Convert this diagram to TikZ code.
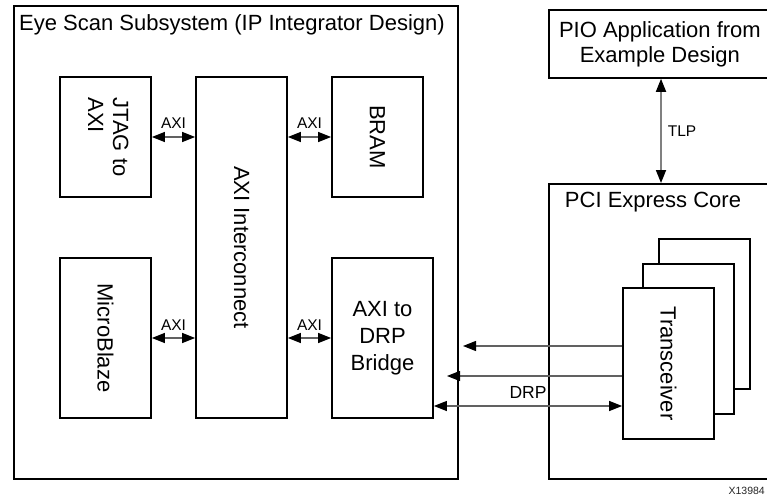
\documentclass[tikz,border=0pt]{standalone}
\usepackage{fontspec}
\setmainfont{Liberation Sans}
\usepackage{graphicx}
\usetikzlibrary{arrows.meta}
\newcommand\bigtxt{\fontsize{22}{25}\selectfont}
\begin{document}
\begin{tikzpicture}[x=1pt,y=-1pt,
  box/.style={draw,line width=1.8pt,fill=white,inner sep=0pt,font=\bigtxt,align=center},
  lbl/.style={font=\fontsize{15.5}{17}\selectfont,inner sep=1pt},
  drplbl/.style={font=\fontsize{17.5}{19}\selectfont,inner sep=1pt},
  hd/.tip={Triangle[length=13pt,width=10pt,color=black]},
  sig/.style={draw=black!62,line width=1.2pt},
  tlp/.style={draw=black!50,line width=1.7pt}]
\useasboundingbox (0,0) rectangle (767,497);
\clip (0,0) rectangle (767,497);
\fill[white] (0,0) rectangle (767,497);
% Eye scan subsystem
\node[box,anchor=north west,minimum width=444pt,minimum height=473pt] (eye) at (13,5) {};
\node[font=\bigtxt,anchor=west,inner sep=0pt] (eyetitle) at (19,25) {Eye Scan Subsystem (IP Integrator Design)};
\node[box,minimum width=91pt,minimum height=120pt] (jtag) at (105.5,137) {\rotatebox{-90}{\begin{tabular}{@{}l@{}}JTAG to\\AXI\end{tabular}}};
\node[box,minimum width=91pt,minimum height=341pt] (axi) at (241.5,247.5) {\rotatebox{-90}{AXI Interconnect}};
\node[box,minimum width=91pt,minimum height=120pt] (bram) at (377.5,137) {\rotatebox{-90}{BRAM}};
\node[box,minimum width=91pt,minimum height=160pt] (mb) at (105.5,338) {\rotatebox{-90}{MicroBlaze}};
\node[box,minimum width=101pt,minimum height=160pt,font=\fontsize{22}{27}\selectfont] (bridge) at (382.5,338) {AXI to\\DRP\\Bridge};
% Right side
\node[box,anchor=north west,minimum width=222pt,minimum height=68pt] (pio) at (548,9) {PIO Application from\\Example Design};
\node[box,anchor=north west,minimum width=222pt,minimum height=295pt] (pci) at (548,183) {};
\node[font=\bigtxt,inner sep=0pt] (pcititle) at (653,202) {PCI Express Core};
\node[box,anchor=north west,minimum width=91pt,minimum height=150pt] (trx3) at (658,238) {};
\node[box,anchor=north west,minimum width=91pt,minimum height=150pt] (trx2) at (642,263) {};
\node[box,minimum width=91pt,minimum height=151pt] (trx) at (668.5,363.5) {\rotatebox{-90}{Transceiver}};
% AXI connectors
\coordinate (ya) at (0,137);
\coordinate (yb) at (0,338);
\draw[sig,hd-hd] (jtag.east |- ya) -- (axi.west |- ya) node[lbl,midway,above=7pt] {AXI};
\draw[sig,hd-hd] (axi.east |- ya) -- (bram.west |- ya) node[lbl,midway,above=7pt] {AXI};
\draw[sig,hd-hd] (mb.east |- yb) -- (axi.west |- yb) node[lbl,midway,above=6pt] {AXI};
\draw[sig,hd-hd] (axi.east |- yb) -- (bridge.west |- yb) node[lbl,midway,above=6pt] {AXI};
% TLP
\coordinate (xt) at (661,0);
\draw[tlp,hd-hd] (pio.south -| xt) -- (pci.north -| xt) node[lbl,midway,right=5pt] {TLP};
% DRP
\coordinate (e1) at (463,346);
\coordinate (e2) at (447,376);
\coordinate (e3) at (0,406);
\draw[sig,-hd] (trx.west |- e1) -- (e1);
\draw[sig,-hd] (trx.west |- e2) -- (e2);
\draw[sig,hd-hd] (bridge.east |- e3) -- (trx.west |- e3) node[drplbl,midway,above=6pt] {DRP};
\node[font=\fontsize{10.5}{12}\selectfont,anchor=east,inner sep=0pt,text=black!85] (figid) at (765,491) {X13984};
\end{tikzpicture}
\end{document}
